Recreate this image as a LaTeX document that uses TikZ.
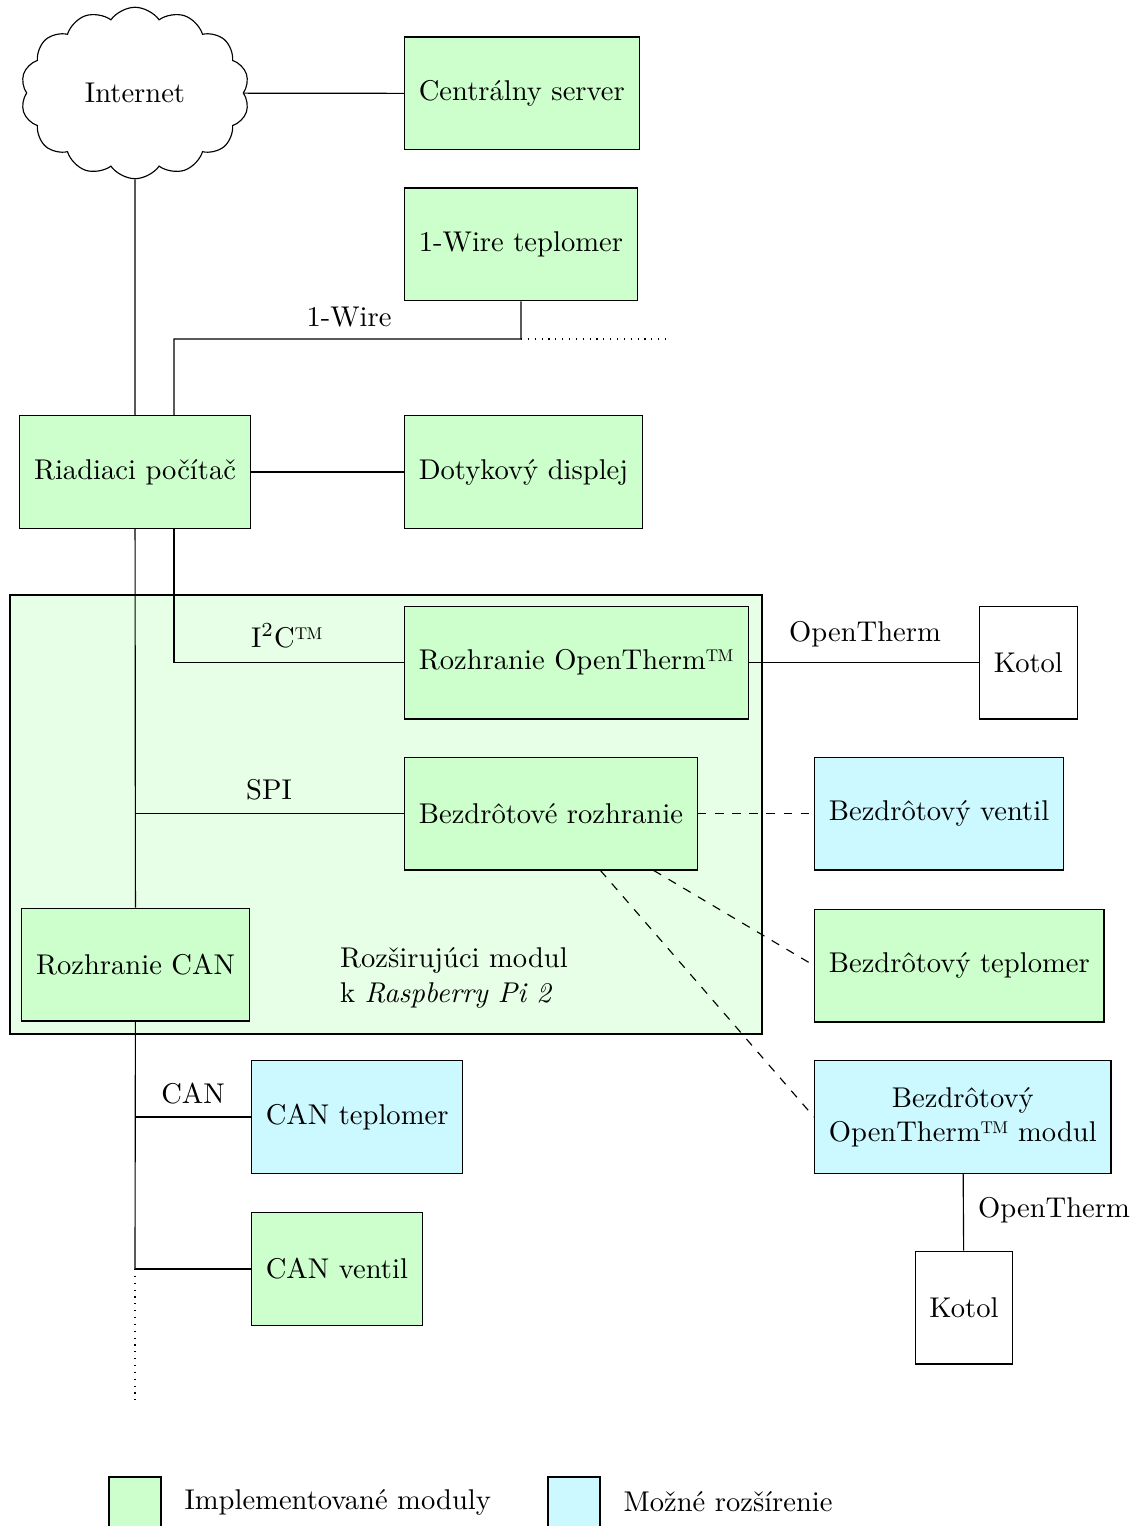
\documentclass[tikz,border=0pt]{standalone}
\usepackage{fontspec}
\usepackage{tikz}
\usetikzlibrary{shapes.symbols,calc}

\definecolor{implgreen}{RGB}{204,255,204}
\definecolor{extcyan}{RGB}{204,249,255}
\definecolor{modbg}{RGB}{230,255,230}

\tikzset{
  block/.style={draw, minimum height=39.5pt, inner xsep=5pt},
  impl/.style={block, fill=implgreen},
  ext/.style={block, fill=extcyan},
  plain/.style={block, fill=white}
}

\begin{document}
\begin{tikzpicture}[x=0.35pt, y=-0.35pt]

  \useasboundingbox (0,0) rectangle (1133,1526);

  % rozsirujuci modul
  \draw[fill=modbg] (10,595) rectangle (762,1034);
  \node[align=left, anchor=west] (modlabel) at (330,978)
    {Rozširujúci modul\\k \textit{Raspberry Pi 2}};

  \node[draw, cloud, cloud puffs=14, cloud puff arc=110, aspect=1.35,
        minimum width=80pt, minimum height=60pt, fill=white] (inet) at (135,93) {Internet};
  \node[impl, anchor=west] (server) at (404,93.5) {Centrálny server};
  \node[impl, anchor=west] (owire) at (404,244.5) {1-Wire teplomer};
  \node[impl] (ctrl) at (135,472) {Riadiaci počítač};
  \node[impl, anchor=west] (disp) at (404,472) {Dotykový displej};

  \node[impl, anchor=west] (otif) at (404,662.5) {Rozhranie OpenTherm\texttrademark};
  \node[plain, anchor=west] (kotol) at (979,662.5) {Kotol};
  \node[impl, anchor=west] (wlif) at (404,813.5) {Bezdrôtové rozhranie};
  \node[impl] (canif) at (135.5,964.5) {Rozhranie CAN};

  \node[ext, anchor=west] (wvalve) at (814,813.5) {Bezdrôtový ventil};
  \node[impl, anchor=west] (wtemp) at (814,965.5) {Bezdrôtový teplomer};
  \node[ext, anchor=west, align=center] (wotm) at (814,1117)
    {Bezdrôtový\\OpenTherm\texttrademark{} modul};
  \node[plain] (kotolw) at (964,1307.5) {Kotol};

  \node[ext, anchor=west] (cantemp) at (251,1117) {CAN teplomer};
  \node[impl, anchor=west] (canvalve) at (251,1269) {CAN ventil};

  % spoje
  \draw (inet) -- (server);
  \draw (inet) -- (ctrl);
  \draw (ctrl) -- (disp);

  \coordinate (wj) at (521,339);
  \coordinate (wend) at (670,339);
  \draw (owire) -- (wj) -| ($(ctrl.north)+(39,0)$);
  \draw[dotted] (wj) -- (wend);
  \node (wirelbl) at (349,317) {1-Wire};

  \draw ($(ctrl.south)+(39,0)$) |- (otif);
  \node (i2clbl) at (287,636) {I$^2$C\texttrademark};
  \draw (ctrl) -- (canif);

  \coordinate (spij) at (135,813.5);
  \draw (spij) -- (wlif);
  \node (spilbl) at (269,790) {SPI};

  \draw (otif) -- (kotol);
  \node (otlbl) at (865,634) {OpenTherm};

  \draw[dashed] (wlif) -- (wvalve);
  \draw[dashed] (wlif.-29) -- (wtemp.west);
  \draw[dashed] (wlif.-49) -- (wotm.west);

  \draw (wotm) -- (kotolw);
  \node (otlblw) at (1054,1210) {OpenTherm};

  \coordinate (canj) at (135,1117);
  \coordinate (canv) at (135,1269);
  \coordinate (canend) at (135,1400);
  \draw (canif) -- (canv);
  \draw (canj) -- (cantemp);
  \draw (canv) -- (canvalve);
  \draw[dotted] (canv) -- (canend);
  \node (canlbl) at (193,1094) {CAN};

  % legenda
  \draw[fill=implgreen] (109,1477) rectangle (161,1545);
  \node[anchor=west, inner sep=0pt] (legimpl) at (184,1502) {Implementované moduly};
  \draw[fill=extcyan] (548,1477) rectangle (600,1545);
  \node[anchor=west, inner sep=0pt] (legext) at (623,1502) {Možné rozšírenie};

\end{tikzpicture}
\end{document}
